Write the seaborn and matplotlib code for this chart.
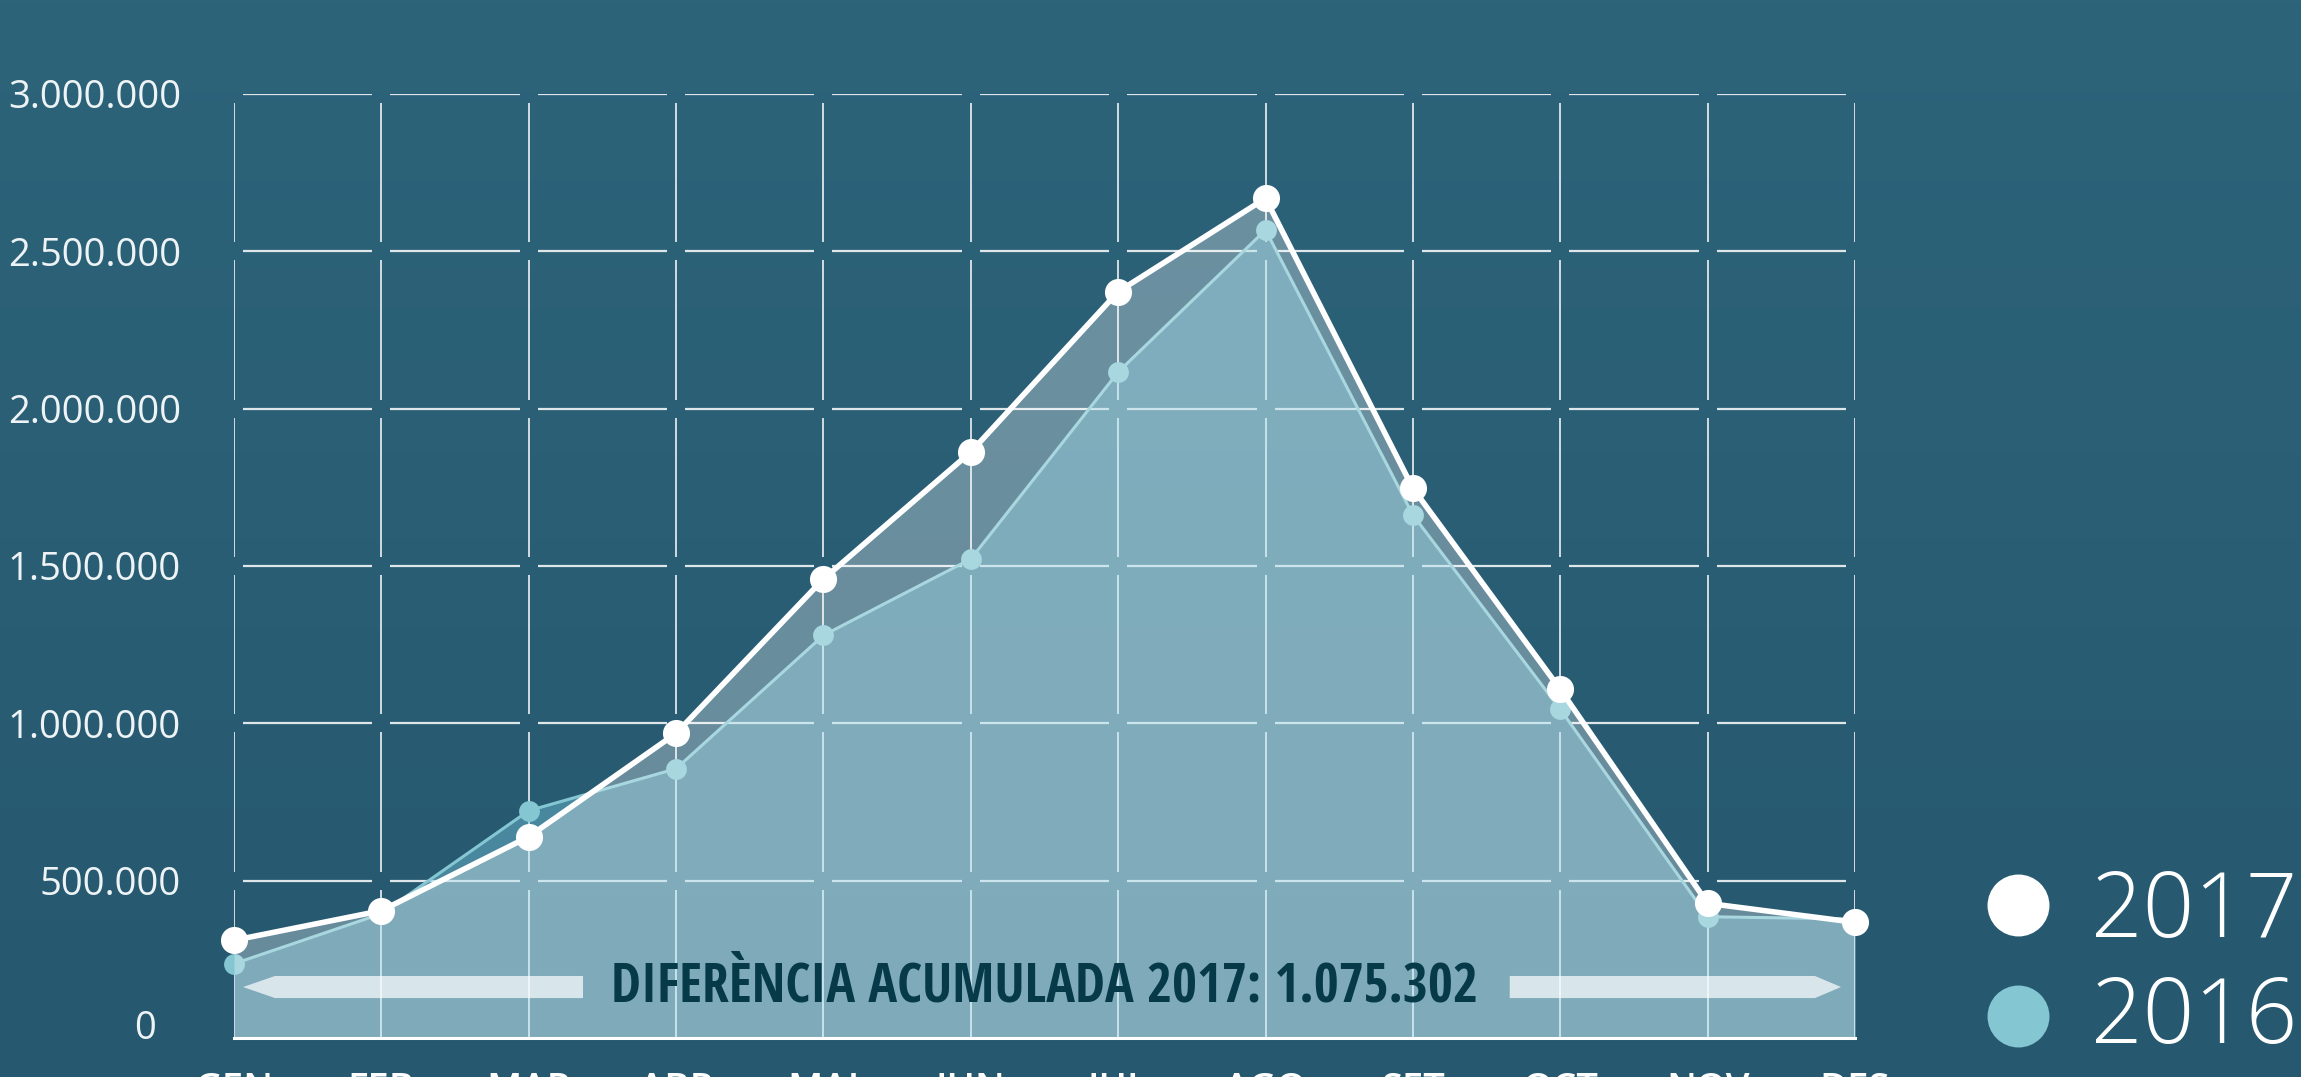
import os
import numpy as np
import pandas as pd
import matplotlib
matplotlib.use('Agg')
import matplotlib.pyplot as plt
from matplotlib import font_manager as fm
from matplotlib.patches import Polygon
import seaborn as sns

# ---------------- data ----------------
months = ['GEN', 'FEB', 'MAR', 'ABR', 'MAI', 'JUN', 'JUL', 'AGO', 'SET', 'OCT', 'NOV', 'DES']
v2017 = [310500, 404600, 639800, 968300, 1458700, 1862300, 2371800, 2668600, 1747000, 1108000, 428000, 367600]
v2016 = [236000, 395000, 722400, 855800, 1279700, 1522300, 2116500, 2567800, 1662100, 1044600, 385500, 378000]
yticks = [0, 500000, 1000000, 1500000, 2000000, 2500000, 3000000]
ytick_labels = ['0', '500.000', '1.000.000', '1.500.000', '2.000.000', '2.500.000', '3.000.000']
series_labels = ['2017', '2016']
annotation = 'DIFERÈNCIA ACUMULADA 2017: 1.075.302'

# ---------------- style ----------------
W, H, DPI = 2301, 1077, 100
sns.set_style('white')
plt.rcParams['font.family'] = ['Open Sans', 'DejaVu Sans']

C2017 = '#ffffff'
C2016 = '#84c6d2'
GRID = '#dfe6ea'


def condensed_bold():
    prefs = ['Open Sans Condensed', 'Open Sans', 'Noto Sans', 'Roboto Condensed', 'Roboto',
             'DejaVu Sans Condensed', 'DejaVu Sans', 'Liberation Sans Narrow']
    best, best_rank = None, 999
    for f in fm.fontManager.ttflist:
        low = os.path.basename(f.fname).lower()
        if 'italic' in low or 'oblique' in low:
            continue
        cond = ('condensed' in low or 'narrow' in low or
                str(f.stretch) in ('condensed', 'semi-condensed', 'extra-condensed'))
        w = f.weight if isinstance(f.weight, int) else {'bold': 700, 'semibold': 600}.get(str(f.weight), 400)
        bold = w >= 600 or 'bold' in low
        if 'light' in low:
            bold = False
        if cond and bold and 'extrabold' not in low:
            rank = prefs.index(f.name) if f.name in prefs else 50
            if rank < best_rank:
                best, best_rank = f.fname, rank
    if best:
        return fm.FontProperties(fname=best)
    return fm.FontProperties(family=['Open Sans', 'DejaVu Sans'], weight='bold')


fig = plt.figure(figsize=(W / DPI, H / DPI), dpi=DPI)

# background gradient
bg = fig.add_axes([0, 0, 1, 1], zorder=-10)
top = np.array([45, 100, 122]) / 255
bot = np.array([38, 88, 111]) / 255
g = np.linspace(0, 1, 256)[:, None, None]
bg.imshow(top * (1 - g) + bot * g, aspect='auto', extent=[0, 1, 0, 1])
bg.axis('off')

# plot area in pixels
L, R, B, T = 234, 1855, 1038, 94
ax = fig.add_axes([L / W, 1 - B / H, (R - L) / W, (B - T) / H])
ax.set_facecolor('none')

x = np.arange(len(months))
df = pd.DataFrame({'mes': x, '2017': v2017, '2016': v2016})
ymax = yticks[-1]
ax.set_xlim(x[0], x[-1])
ax.set_ylim(0, ymax)

# broken grid (gaps around intersections)
px_x = (R - L) / (x[-1] - x[0])
px_y = (B - T) / ymax
gap = 9
gx, gy = gap / px_x, gap / px_y
hy, hx0, hx1 = [], [], []
for yv in yticks[1:]:
    for i in range(len(x) - 1):
        hy.append(yv); hx0.append(x[i] + gx); hx1.append(x[i + 1] - gx)
ax.hlines(hy, hx0, hx1, colors=GRID, lw=1.6, zorder=1)
vx, vy0, vy1 = [], [], []
for xv in x:
    for j in range(len(yticks) - 1):
        vx.append(xv)
        vy0.append(yticks[j] + (gy if j > 0 else 0))
        vy1.append(yticks[j + 1] - gy)
ax.vlines(vx, vy0, vy1, colors=GRID, lw=1.3, zorder=1)

# 2016 area + line
ax.fill_between(x, 0, v2016, color=(122 / 255, 204 / 255, 226 / 255), alpha=0.4, lw=0, zorder=2)
sns.lineplot(data=df, x='mes', y='2016', ax=ax, color=C2016, lw=2.2, marker='o',
             markersize=15, markeredgewidth=0, zorder=3)
# 2017 area + line
ax.fill_between(x, 0, v2017, color='white', alpha=0.3, lw=0, zorder=4)
sns.lineplot(data=df, x='mes', y='2017', ax=ax, color=C2017, lw=4.0, marker='o',
             markersize=19.5, markeredgewidth=0, zorder=6)
for ln in ax.lines:
    ln.set_clip_on(False)

ax.set_xlabel('')
ax.set_ylabel('')
for s in ['top', 'right', 'left']:
    ax.spines[s].set_visible(False)
ax.spines['bottom'].set_color('white')
ax.spines['bottom'].set_linewidth(2.2)
ax.spines['bottom'].set_zorder(7)

ax.set_xticks(x, months)
ax.tick_params(axis='x', length=0, pad=23.5, labelsize=27.5, labelcolor='white')
for t in ax.get_xticklabels():
    t.set_fontweight('semibold')
ax.set_yticks(yticks, [''] + ytick_labels[1:])
ax.tick_params(axis='y', length=0, pad=38, labelsize=27.5, labelcolor='#eef3f5')

# annotation arrows
arrow_kw = dict(transform=ax.transAxes, facecolor='white', alpha=0.7, lw=0, zorder=5)
yc, hh = 0.054, 0.0117
ax.add_patch(Polygon([(0.0056, yc), (0.0253, yc + hh), (0.2153, yc + hh), (0.2153, yc - hh),
                      (0.0253, yc - hh)], **arrow_kw))
ax.add_patch(Polygon([(0.787, yc - hh), (0.787, yc + hh), (0.9753, yc + hh), (0.9914, yc),
                      (0.9753, yc - hh)], **arrow_kw))

fp = condensed_bold()
fp.set_size(30)
ann = ax.text(0.5, 0.0385, annotation, transform=ax.transAxes, ha='center', va='baseline',
              color='#063a48', fontproperties=fp, zorder=8)

# overlay in pixel coordinates for legend and the "0" label
ov = fig.add_axes([0, 0, 1, 1], zorder=10)
ov.set_xlim(0, W)
ov.set_ylim(H, 0)
ov.axis('off')
ov.patch.set_alpha(0)
ov.text(156, 1039, ytick_labels[0], ha='right', va='baseline', fontsize=27.5, color='#eef3f5')

leg_colors = [C2017, C2016]
leg_y = [905, 1016]
leg_base = [937, 1043]
for lab, col, yy, yb in zip(series_labels, leg_colors, leg_y, leg_base):
    ov.scatter([2018], [yy], s=44.6 ** 2, color=col, lw=0)
    ov.text(2091, yb, lab, ha='left', va='baseline', fontsize=65, fontweight='light', color='white')

# fit annotation width
fig.canvas.draw()
bb = ann.get_window_extent()
fp2 = fp.copy()
fp2.set_size(30 * 867 / bb.width)
ann.set_fontproperties(fp2)

fig.savefig('out.png', dpi=DPI)
